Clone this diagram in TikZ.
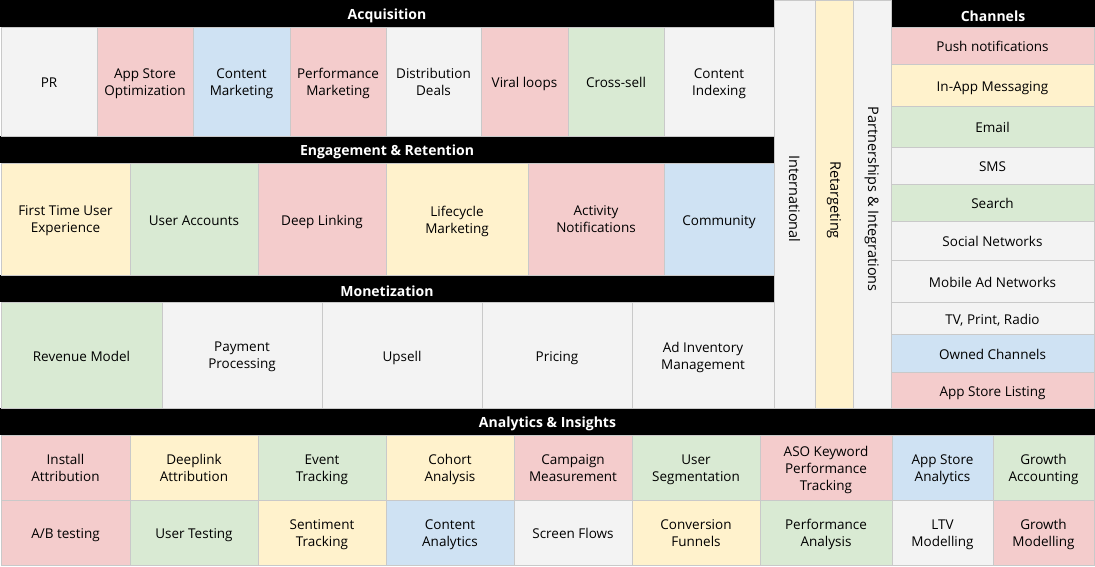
\documentclass[tikz,border=0pt]{standalone}
\usepackage{fontspec}
\setmainfont{Open Sans}
\definecolor{CellGray}{HTML}{F3F3F3}
\definecolor{CellPink}{HTML}{F4CCCC}
\definecolor{CellBlue}{HTML}{CFE2F3}
\definecolor{CellGreen}{HTML}{D9EAD3}
\definecolor{CellYellow}{HTML}{FFF2CC}
\definecolor{GridLine}{HTML}{C9C9C9}
\tikzset{
	tile/.style={draw=GridLine,line width=0.8pt,inner sep=0pt},
	tiletxt/.style={inner sep=0pt,align=center,yshift=-3pt,
		font=\fontsize{13.5}{17}\selectfont,
		execute at begin node=\strut,execute at end node=\strut},
	band/.style={fill=black,inner sep=0pt,minimum height=27pt},
	bandtxt/.style={text=white,inner sep=0pt,yshift=-2.5pt,
		font=\fontsize{14}{17}\selectfont\bfseries},
	sidetxt/.style={rotate=-90,inner sep=0pt,xshift=2pt,font=\fontsize{14.5}{17}\selectfont},
}

\begin{document}
\begin{tikzpicture}[x=1pt,y=-1pt]
	\useasboundingbox (0,0) rectangle (1095,567);
	% section headers
	\node[band,minimum width=774pt] (acqhead) at (387,13.5) {};
	\node[band,minimum width=774pt] (enghead) at (387,149.5) {};
	\node[band,minimum width=774pt] (monhead) at (387,288.5) {};
	\node[band,minimum width=1095pt] (anahead) at (547.5,421.5) {};
	\node[band,minimum width=204pt] (chanhead) at (993,13.5) {};
	\node[bandtxt] (acqhead-t) at (acqhead) {Acquisition};
	\node[bandtxt] (enghead-t) at (enghead) {Engagement \& Retention};
	\node[bandtxt] (monhead-t) at (monhead) {Monetization};
	\node[bandtxt] (anahead-t) at (anahead) {Analytics \& Insights};
	\node[bandtxt] (chanhead-t) at (chanhead) {Channels};
	% acquisition
	\foreach \xa/\xb/\col/\txt [count=\i] in {1/97/CellGray/PR, 97/193/CellPink/App Store\\Optimization,
		193/290/CellBlue/Content\\Marketing, 290/386/CellPink/Performance\\Marketing,
		386/481/CellGray/Distribution\\Deals, 481/568/CellPink/Viral loops,
		568/664/CellGreen/Cross-sell, 664/774/CellGray/Content\\Indexing}
	{
		\node[tile,fill=\col,minimum width={(\xb-\xa)*1pt},minimum height=109pt] (acq\i) at ({(\xa+\xb)/2},81.5) {};
		\node[tiletxt] (acq\i-t) at (acq\i) {\txt};
	}
	% engagement
	\foreach \xa/\xb/\col/\txt [count=\i] in {1/130/CellYellow/First Time User\\Experience,
		130/258/CellGreen/User Accounts, 258/386/CellPink/Deep Linking,
		386/528/CellYellow/Lifecycle\\Marketing, 528/664/CellPink/Activity\\Notifications,
		664/774/CellBlue/Community}
	{
		\node[tile,fill=\col,minimum width={(\xb-\xa)*1pt},minimum height=112pt] (eng\i) at ({(\xa+\xb)/2},219) {};
		\node[tiletxt] (eng\i-t) at (eng\i) {\txt};
	}
	% monetization
	\foreach \xa/\xb/\col/\txt [count=\i] in {1/162/CellGreen/Revenue Model,
		162/322/CellGray/Payment\\Processing, 322/482/CellGray/Upsell,
		482/632/CellGray/Pricing, 632/774/CellGray/Ad Inventory\\Management}
	{
		\node[tile,fill=\col,minimum width={(\xb-\xa)*1pt},minimum height=106pt] (mon\i) at ({(\xa+\xb)/2},355) {};
		\node[tiletxt] (mon\i-t) at (mon\i) {\txt};
	}
	% cross-cutting columns
	\node[tile,fill=CellGray,minimum width=41pt,minimum height=408pt] (intl) at (794.5,204) {};
	\node[tile,fill=CellYellow,minimum width=38pt,minimum height=408pt] (retarget) at (834,204) {};
	\node[tile,fill=CellGray,minimum width=38pt,minimum height=408pt] (partner) at (872,204) {};
	\node[sidetxt] (intl-t) at (intl.center |- 0,197) {International};
	\node[sidetxt] (retarget-t) at (retarget.center |- 0,198) {Retargeting};
	\node[sidetxt] (partner-t) at (partner.center |- 0,197) {Partnerships \& Integrations};
	% channels
	\foreach \ya/\yb/\col/\txt [count=\i] in {27/64/CellPink/Push notifications,
		64/106/CellYellow/In-App Messaging, 106/147/CellGreen/Email, 147/184/CellGray/SMS,
		184/221/CellGreen/Search, 221/260/CellGray/Social Networks,
		260/302/CellGray/Mobile Ad Networks, {302/334/CellGray/TV, Print, Radio},
		334/372/CellBlue/Owned Channels, 372/408/CellPink/App Store Listing}
	{
		\node[tile,fill=\col,minimum width=203pt,minimum height={(\yb-\ya)*1pt}] (chan\i) at (992.5,{(\ya+\yb)/2}) {};
		\node[tiletxt] (chan\i-t) at (chan\i) {\txt};
	}
	% analytics, first row
	\foreach \xa/\xb/\col/\txt [count=\i] in {1/130/CellPink/Install\\Attribution,
		130/258/CellYellow/Deeplink\\Attribution, 258/386/CellGreen/Event\\Tracking,
		386/514/CellYellow/Cohort\\Analysis, 514/632/CellPink/Campaign\\Measurement,
		632/760/CellGreen/User\\Segmentation, 760/892/CellPink/ASO Keyword\\Performance\\Tracking,
		892/993/CellBlue/App Store\\Analytics, 993/1094/CellGreen/Growth\\Accounting}
	{
		\node[tile,fill=\col,minimum width={(\xb-\xa)*1pt},minimum height=65pt] (anaA\i) at ({(\xa+\xb)/2},467.5) {};
		\node[tiletxt] (anaA\i-t) at (anaA\i) {\txt};
	}
	% analytics, second row
	\foreach \xa/\xb/\col/\txt [count=\i] in {1/130/CellPink/{A/B testing},
		130/258/CellGreen/User Testing, 258/386/CellYellow/Sentiment\\Tracking,
		386/514/CellBlue/Content\\Analytics, 514/632/CellGray/Screen Flows,
		632/760/CellYellow/Conversion\\Funnels, 760/892/CellGreen/Performance\\Analysis,
		892/993/CellGray/LTV\\Modelling, 993/1094/CellPink/Growth\\Modelling}
	{
		\node[tile,fill=\col,minimum width={(\xb-\xa)*1pt},minimum height=65pt] (anaB\i) at ({(\xa+\xb)/2},532.5) {};
		\node[tiletxt] (anaB\i-t) at (anaB\i) {\txt};
	}
\end{tikzpicture}
\end{document}
